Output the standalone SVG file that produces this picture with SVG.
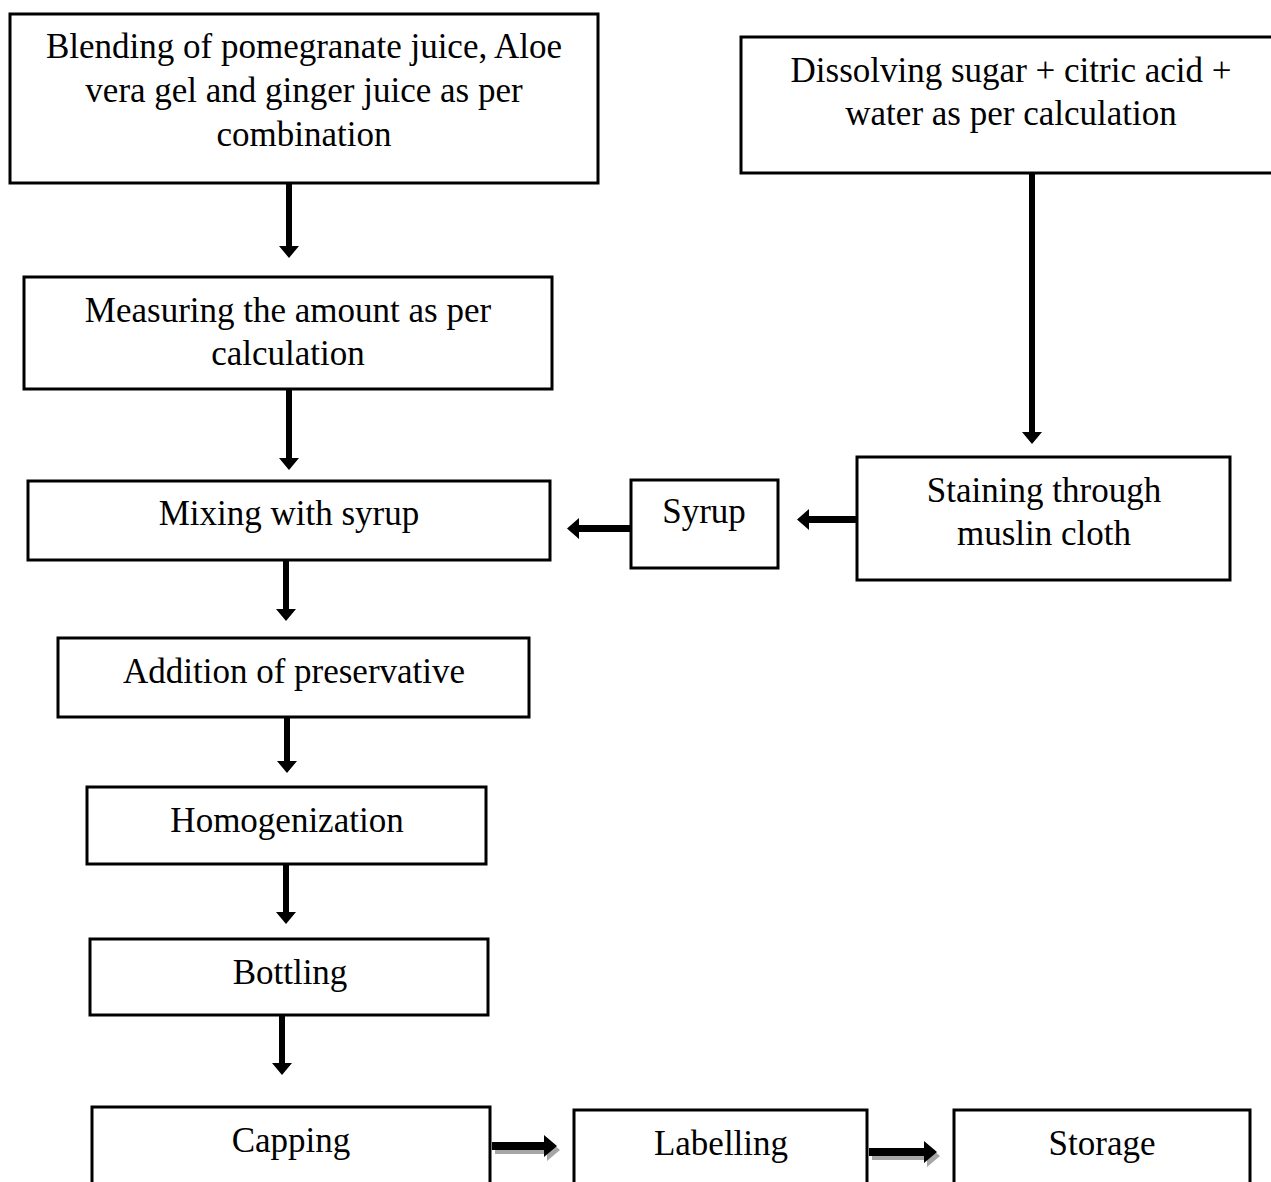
<svg xmlns="http://www.w3.org/2000/svg" width="1271" height="1182" viewBox="0 0 1271 1182">
<style>
.box{fill:#fff;stroke:#000;stroke-width:3}
.t{font-family:"Liberation Serif","Times New Roman",serif;font-size:35px;fill:#000;text-anchor:middle}
.a{fill:#000}
.s{fill:#a6a6a6}
</style>
<rect width="1271" height="1182" fill="#fff"/>
<g id="connectors">
<path class="a" d="M286,183 h6 v63 h7 l-10,12 l-10,-12 h7 Z"/>
<path class="a" d="M286,389 h6 v69 h7 l-10,12 l-10,-12 h7 Z"/>
<path class="a" d="M283,560 h6 v49 h7 l-10,12 l-10,-12 h7 Z"/>
<path class="a" d="M284,714 h6 v47 h7 l-10,12 l-10,-12 h7 Z"/>
<path class="a" d="M283,864 h6 v48 h7 l-10,12 l-10,-12 h7 Z"/>
<path class="a" d="M279,1015 h6 v48 h7 l-10,12 l-10,-12 h7 Z"/>
<path class="a" d="M1029,173 h6 v259 h7 l-10,12 l-10,-12 h7 Z"/>
<path class="a" d="M857,516 v7 h-48 v7 l-12,-10.5 l12,-10.5 v7 Z"/>
<path class="a" d="M630,525 v7 h-51 v7 l-12,-10.5 l12,-10.5 v7 Z"/>
<path class="s" d="M495,1146 h52 v-7 l13,11 l-13,11 v-7 h-52 Z"/>
<path class="a" d="M492,1142 h52 v-7 l13,11 l-13,11 v-7 h-52 Z"/>
<path class="s" d="M872,1152 h55 v-7 l13,11 l-13,11 v-7 h-55 Z"/>
<path class="a" d="M869,1148 h55 v-7 l13,11 l-13,11 v-7 h-55 Z"/>
</g>
<g id="n1"><rect class="box" x="10" y="14" width="588" height="169"/>
<text class="t" x="304" y="58">Blending of pomegranate juice, Aloe</text>
<text class="t" x="304" y="102">vera gel and ginger juice as per</text>
<text class="t" x="304" y="146">combination</text></g>
<g id="n2"><rect class="box" x="741" y="37" width="540" height="136"/>
<text class="t" x="1011" y="82">Dissolving sugar + citric acid +</text>
<text class="t" x="1011" y="125">water as per calculation</text></g>
<g id="n3"><rect class="box" x="24" y="277" width="528" height="112"/>
<text class="t" x="288" y="322">Measuring the amount as per</text>
<text class="t" x="288" y="365">calculation</text></g>
<g id="n4"><rect class="box" x="28" y="481" width="522" height="79"/>
<text class="t" x="289" y="525">Mixing with syrup</text></g>
<g id="n5"><rect class="box" x="631" y="480" width="147" height="88"/>
<text class="t" x="704" y="523">Syrup</text></g>
<g id="n6"><rect class="box" x="857" y="457" width="373" height="123"/>
<text class="t" x="1044" y="502">Staining through</text>
<text class="t" x="1044" y="545">muslin cloth</text></g>
<g id="n7"><rect class="box" x="58" y="638" width="471" height="79"/>
<text class="t" x="294" y="683">Addition of preservative</text></g>
<g id="n8"><rect class="box" x="87" y="787" width="399" height="77"/>
<text class="t" x="287" y="832">Homogenization</text></g>
<g id="n9"><rect class="box" x="90" y="939" width="398" height="76"/>
<text class="t" x="290" y="984">Bottling</text></g>
<g id="n10"><rect class="box" x="92" y="1107" width="398" height="90"/>
<text class="t" x="291" y="1152">Capping</text></g>
<g id="n11"><rect class="box" x="574" y="1110" width="293" height="90"/>
<text class="t" x="721" y="1155">Labelling</text></g>
<g id="n12"><rect class="box" x="954" y="1110" width="296" height="90"/>
<text class="t" x="1102" y="1155">Storage</text></g>
</svg>
